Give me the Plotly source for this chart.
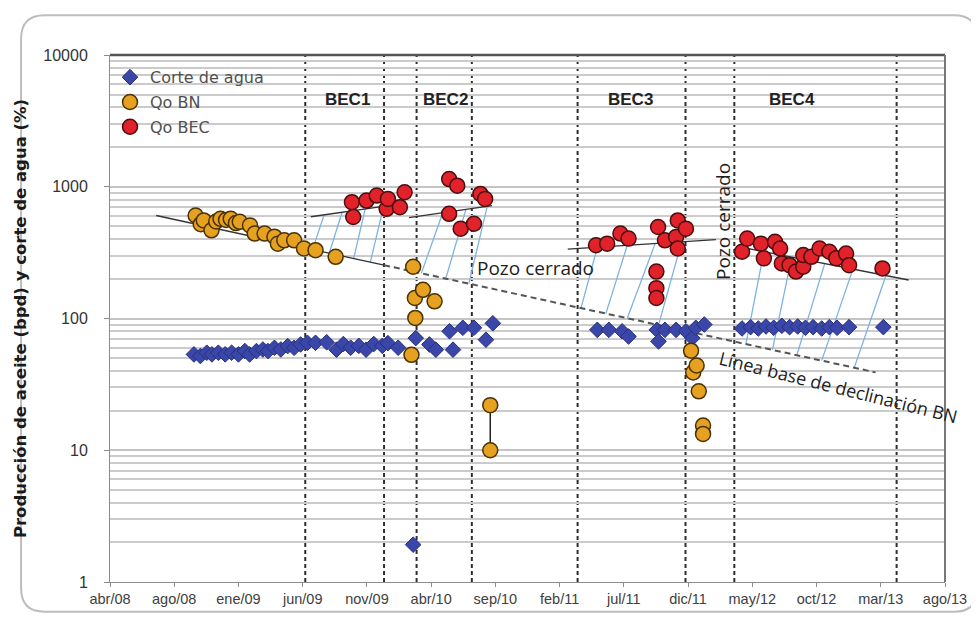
import plotly.graph_objects as go

# ---------------- data ----------------
tick_dates = ["2008-04-01", "2008-08-29", "2009-01-26", "2009-06-25", "2009-11-22", "2010-04-21",
              "2010-09-18", "2011-02-15", "2011-07-15", "2011-12-12", "2012-05-10", "2012-10-07",
              "2013-03-06", "2013-08-03"]
tick_labels = ["abr/08", "ago/08", "ene/09", "jun/09", "nov/09", "abr/10", "sep/10", "feb/11",
               "jul/11", "dic/11", "may/12", "oct/12", "mar/13", "ago/13"]
y_ticks = [1, 10, 100, 1000, 10000]

# Corte de agua (%)
cut_dates = ["2008-10-14", "2008-10-29", "2008-11-13", "2008-11-25", "2008-12-10", "2008-12-26",
             "2009-01-10", "2009-01-26", "2009-02-10", "2009-02-21", "2009-03-09", "2009-03-24",
             "2009-04-05", "2009-04-20", "2009-05-05", "2009-05-21", "2009-06-05", "2009-06-20",
             "2009-07-06", "2009-07-25",
             "2009-08-20", "2009-09-12", "2009-09-28", "2009-10-15", "2009-11-03", "2009-11-20",
             "2009-12-08", "2009-12-28", "2010-01-10", "2010-02-03", "2010-03-10", "2010-03-16",
             "2010-04-17", "2010-05-02", "2010-06-03", "2010-06-11", "2010-07-04", "2010-07-30",
             "2010-08-27", "2010-09-12",
             "2011-05-14", "2011-06-10", "2011-07-11", "2011-07-26", "2011-09-30", "2011-10-04",
             "2011-10-19", "2011-11-14", "2011-12-07", "2011-12-22", "2011-12-30", "2012-01-19",
             "2012-04-16", "2012-05-06", "2012-05-24", "2012-06-11", "2012-06-29", "2012-07-18",
             "2012-08-05", "2012-08-24", "2012-09-11", "2012-09-29", "2012-10-19", "2012-11-06",
             "2012-11-24", "2012-12-22", "2013-03-12"]
cut_vals = [53.4, 51.9, 55.0, 53.4, 55.0, 53.4,
            55.0, 53.4, 56.6, 53.4, 56.6, 58.2,
            56.6, 59.9, 58.2, 61.8, 59.9, 63.5,
            65.4, 65.4,
            66, 58, 64, 60, 62, 58,
            64, 62, 65, 60, 1.92, 71,
            63.5, 58, 80, 58, 85, 85,
            69, 92,
            82, 82, 80, 73, 82, 67,
            82, 82, 80, 71, 85, 90,
            84, 86, 84, 87, 85, 88,
            86, 87, 85, 86, 84, 86,
            85, 86, 86]

# Qo BN (bpd)
bn_dates = ["2008-10-18", "2008-10-30", "2008-11-06", "2008-11-24", "2008-12-05", "2008-12-15",
            "2008-12-28", "2009-01-08", "2009-01-20", "2009-01-29", "2009-02-22", "2009-03-05",
            "2009-03-28", "2009-04-20", "2009-04-28", "2009-05-13", "2009-06-05", "2009-06-28",
            "2009-07-25", "2009-09-10",
            "2010-03-06", "2010-03-10", "2010-03-14", "2010-03-15", "2010-04-02", "2010-04-29",
            "2010-09-06", "2010-09-06",
            "2011-12-19", "2011-12-24", "2012-01-01", "2012-01-06", "2012-01-16", "2012-01-16"]
bn_vals = [605, 520, 555, 467, 545, 571,
           560, 571, 530, 542, 509, 441,
           441, 418, 370, 392, 392, 340,
           330, 294,
           53, 247, 143, 101, 165, 135,
           22, 10,
           57, 39, 44, 28, 15.4, 13.3]
bn_link_dates = ["2010-09-06", "2010-09-06"]
bn_link_vals = [22, 10]

# Qo BEC (bpd)
bec_dates = ["2009-10-18", "2009-10-21", "2009-11-21", "2009-12-15", "2010-01-07", "2010-01-10",
             "2010-02-07", "2010-02-18",
             "2010-06-02", "2010-06-02", "2010-06-21", "2010-06-29", "2010-07-30", "2010-08-14",
             "2010-08-25",
             "2011-05-11", "2011-06-06", "2011-07-07", "2011-07-26", "2011-09-29", "2011-09-29",
             "2011-09-29", "2011-10-03", "2011-10-19", "2011-11-14", "2011-11-18", "2011-11-18",
             "2011-12-07",
             "2012-04-16", "2012-04-28", "2012-05-30", "2012-06-06", "2012-07-02", "2012-07-14",
             "2012-07-18", "2012-08-05", "2012-08-20", "2012-09-06", "2012-09-06", "2012-09-25",
             "2012-10-14", "2012-11-06", "2012-11-22", "2012-12-15", "2012-12-22", "2013-03-10"]
bec_vals = [764, 589, 785, 857, 680, 809,
            700, 908,
            1143, 623, 1019, 481, 524, 882,
            809,
            360, 370, 441, 404, 227, 170,
            143, 495, 392, 416, 555, 340,
            481,
            321, 404, 370, 286, 382, 340,
            262, 254, 227, 247, 303, 294,
            340, 321, 286, 311, 254, 240]

# Trend lines
base_solid_dates = ["2008-07-18", "2010-01-01"]
base_solid_vals = [605, 254]
base_dash_dates = ["2010-01-01", "2013-02-22"]
base_dash_vals = [254, 39]
bec_trend_dates = [["2009-07-14", "2010-01-07"], ["2010-02-28", "2010-09-10"],
                   ["2011-03-06", "2012-02-15"], ["2012-04-05", "2013-05-10"]]
bec_trend_vals = [[592, 716], [582, 720], [336, 397], [352, 196]]

# Hatching (incremental production) segments: top point -> bottom point
hatch_top_dates = ["2009-08-14", "2009-09-25", "2009-11-18", "2009-12-31",
                   "2010-05-18", "2010-07-11", "2010-08-30",
                   "2011-05-14", "2011-07-23", "2011-09-26", "2011-11-27",
                   "2012-06-06", "2012-08-10", "2012-10-26", "2012-12-31", "2013-03-18"]
hatch_top_vals = [612, 641, 679, 710,
                  635, 671, 709,
                  347, 359, 370, 382,
                  321, 292, 261, 237, 212]
hatch_bot_dates = ["2009-07-18", "2009-08-26", "2009-10-22", "2009-11-30",
                   "2010-03-29", "2010-05-25", "2010-07-18",
                   "2011-04-06", "2011-06-03", "2011-07-23", "2011-10-04",
                   "2012-04-25", "2012-06-26", "2012-08-22", "2012-10-19", "2013-01-03"]
hatch_bot_vals = [333, 313, 285, 268,
                  220, 200, 184,
                  120, 109, 100.5, 89,
                  64, 57.8, 52.6, 47.9, 42.2]

# Period boundaries (vertical dashed lines)
period_dates = ["2009-07-01", "2010-01-01", "2010-03-18", "2010-07-25",
                "2011-03-29", "2011-12-06", "2012-03-29", "2013-04-12"]

# ---------------- figure ----------------
fig = go.Figure()

hx, hy = [], []
for td, tv, bd, bv in zip(hatch_top_dates, hatch_top_vals, hatch_bot_dates, hatch_bot_vals):
    hx += [td, bd, None]
    hy += [tv, bv, None]
fig.add_trace(go.Scatter(x=hx, y=hy, mode="lines", line=dict(color="#7DB3E2", width=1.3),
                         showlegend=False, hoverinfo="skip"))

fig.add_trace(go.Scatter(x=base_solid_dates, y=base_solid_vals, mode="lines",
                         line=dict(color="#333333", width=1.3), showlegend=False, hoverinfo="skip"))
fig.add_trace(go.Scatter(x=base_dash_dates, y=base_dash_vals, mode="lines",
                         line=dict(color="#555555", width=2, dash="6px,4px"),
                         showlegend=False, hoverinfo="skip"))
for d, v in zip(bec_trend_dates, bec_trend_vals):
    fig.add_trace(go.Scatter(x=d, y=v, mode="lines", line=dict(color="#333333", width=1.3),
                             showlegend=False, hoverinfo="skip"))

fig.add_trace(go.Scatter(x=bn_link_dates, y=bn_link_vals, mode="lines",
                         line=dict(color="#222222", width=1.5), showlegend=False, hoverinfo="skip"))

fig.add_trace(go.Scatter(x=cut_dates, y=cut_vals, mode="markers", name="Corte de agua",
                         legendgroup="a",
                         marker=dict(symbol="diamond", size=12, color="#3A47A8",
                                     line=dict(color="#27307E", width=1))))
fig.add_trace(go.Scatter(x=bn_dates, y=bn_vals, mode="markers", name="Qo BN",
                         legendgroup="b",
                         marker=dict(symbol="circle", size=15, color="#E5A11F",
                                     line=dict(color="#4A3204", width=1.5))))
fig.add_trace(go.Scatter(x=bec_dates, y=bec_vals, mode="markers", name="Qo BEC",
                         legendgroup="c",
                         marker=dict(symbol="circle", size=15, color="#E1222B",
                                     line=dict(color="#4A0E0E", width=1.5))))

shapes = []
for d in period_dates:
    shapes.append(dict(type="line", xref="x", yref="paper", x0=d, x1=d, y0=0, y1=1,
                       line=dict(color="#2E2E2E", width=2, dash="4px,3px"), layer="between"))
# top and right plot borders
shapes.append(dict(type="line", xref="paper", yref="paper", x0=0, x1=1, y0=1, y1=1,
                   line=dict(color="#555555", width=2.5)))
shapes.append(dict(type="line", xref="paper", yref="paper", x0=1, x1=1, y0=0, y1=1,
                   line=dict(color="#777777", width=2)))
# rounded outer frame
x0, x1, y0, y1 = -0.1065, 1.039, -0.0565, 1.0753
rx, ry = 0.028, 0.045
frame = (f"M {x0+rx},{y1} L {x1-rx},{y1} Q {x1},{y1} {x1},{y1-ry} L {x1},{y0+ry} "
         f"Q {x1},{y0} {x1-rx},{y0} L {x0+rx},{y0} Q {x0},{y0} {x0},{y0+ry} "
         f"L {x0},{y1-ry} Q {x0},{y1} {x0+rx},{y1} Z")
shapes.append(dict(type="path", xref="paper", yref="paper", path=frame,
                   line=dict(color="#BDBDBD", width=2), layer="below"))

bec_font = dict(family="Liberation Sans, Arial", size=17, color="#222222")
txt_font = dict(family="Open Sans", size=19, color="#1E1E1E")
annotations = [
    dict(x=0.284, y=0.915, text="<b>BEC1</b>", font=bec_font),
    dict(x=0.402, y=0.915, text="<b>BEC2</b>", font=bec_font),
    dict(x=0.623, y=0.915, text="<b>BEC3</b>", font=bec_font),
    dict(x=0.817, y=0.915, text="<b>BEC4</b>", font=bec_font),
    dict(x=0.51, y=0.595, text="Pozo cerrado", font=txt_font),
    dict(x=0.734, y=0.685, text="Pozo cerrado", textangle=-90, font=txt_font),
    dict(x=0.872, y=0.37, text="Línea base de declinación BN", textangle=14,
         font=dict(family="Open Sans", size=18, color="#1E1E1E")),
]
for a in annotations:
    a.update(xref="paper", yref="paper", showarrow=False, xanchor="center", yanchor="middle")

fig.update_layout(
    width=971, height=611,
    margin=dict(l=92, r=34, t=47, b=33),
    paper_bgcolor="white", plot_bgcolor="white",
    shapes=shapes, annotations=annotations,
    showlegend=True,
    legend=dict(x=0.0, y=0.99, xanchor="left", yanchor="top", bgcolor="rgba(0,0,0,0)",
                font=dict(family="DejaVu Sans", size=16, color="#505050"), tracegroupgap=1,
                itemwidth=30),
    xaxis=dict(type="date", range=["2008-04-01", "2013-08-03"], tickvals=tick_dates,
               ticktext=tick_labels, showgrid=False, showline=True, linecolor="#8C8C8C",
               linewidth=1, ticks="outside", ticklen=4, tickcolor="#8C8C8C",
               tickfont=dict(family="Liberation Sans, Arial", size=14.5, color="#404040")),
    yaxis=dict(type="log", range=[0, 4], tickvals=y_ticks, ticktext=[str(v) for v in y_ticks],
               showgrid=True, gridcolor="#C4C4C4", gridwidth=1.5,
               minor=dict(dtick="D1", showgrid=True, gridcolor="#CBCBCB", gridwidth=1.5, ticks=""),
               showline=True, linecolor="#8C8C8C", linewidth=1, ticks="outside", ticklen=5,
               tickcolor="#8C8C8C", ticklabelstandoff=13,
               tickfont=dict(family="Liberation Sans, Arial", size=16, color="#333333"),
               title=dict(text="<b>Producción de aceite (bpd) y corte de agua (%)</b>",
                          font=dict(family="DejaVu Sans", size=16.5, color="#1A1A1A"), standoff=12)),
)

fig.write_html("out.html")
